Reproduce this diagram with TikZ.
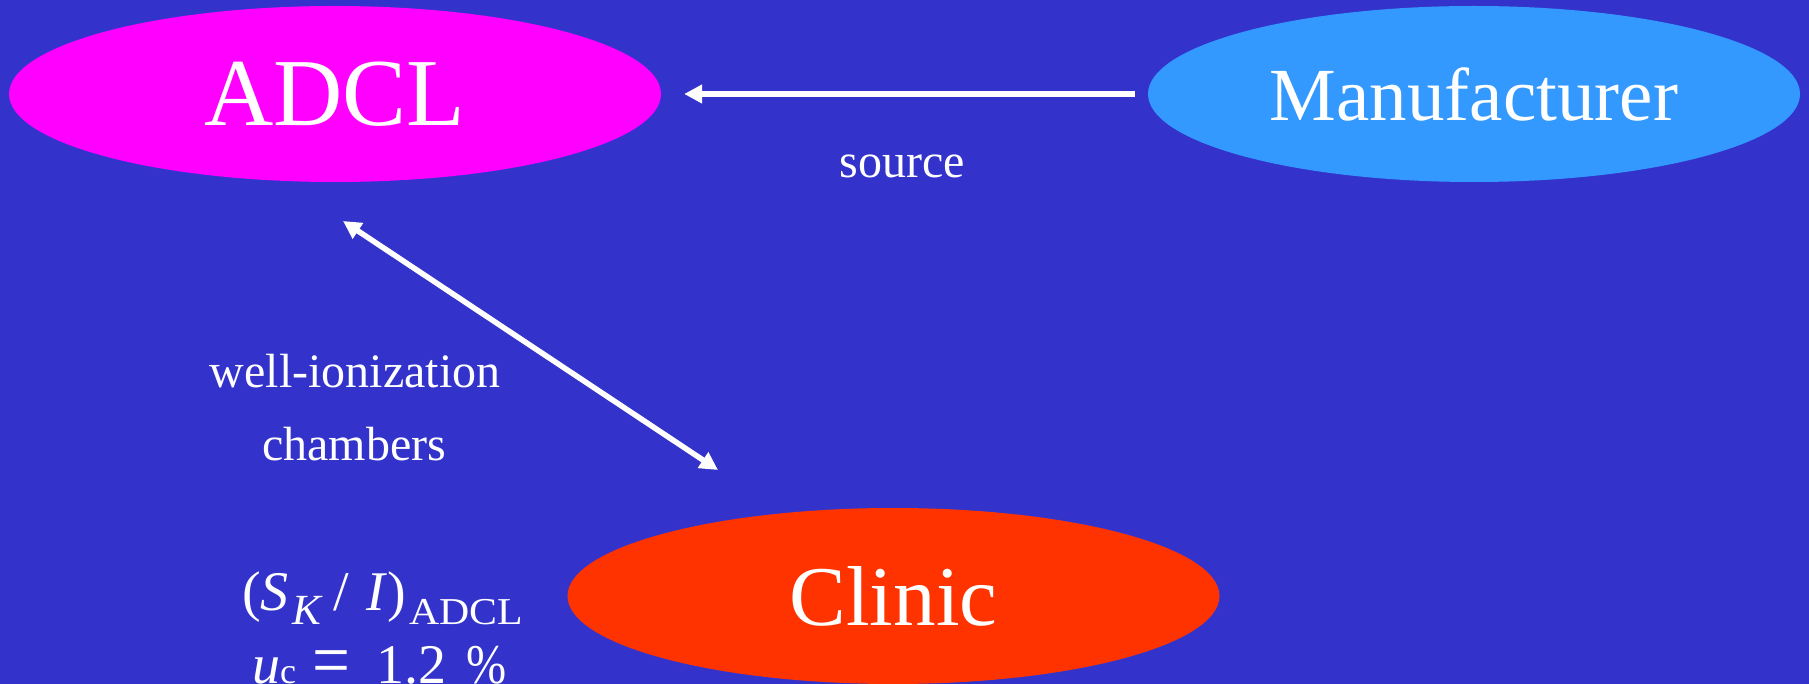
\documentclass[tikz,border=0pt]{standalone}
\usepackage{fontspec}
\setmainfont{Liberation Serif}
\usetikzlibrary{shapes.geometric,arrows.meta}
\definecolor{bgblue}{RGB}{51,51,204}
\definecolor{adclc}{RGB}{255,0,255}
\definecolor{mfrc}{RGB}{51,153,255}
\definecolor{clinicc}{RGB}{255,51,0}
\tikzset{
  blob/.style={ellipse, minimum width=652pt, minimum height=176pt, inner sep=0pt, text=white},
  lbl/.style={text=white, inner sep=0pt, font=\fontsize{48}{56}\selectfont},
  formula/.style={text=white, inner sep=0pt, anchor=base west, font=\fontsize{56}{64}\selectfont},
  arr/.style={draw=white, line width=5.5pt, -{Triangle[length=18pt,width=18pt]}},
  darr/.style={draw=white, line width=5.5pt, {Triangle[length=18pt,width=18pt]}-{Triangle[length=18pt,width=18pt]}},
}
\begin{document}
\begin{tikzpicture}[x=1pt,y=-1pt]
\fill[bgblue] (0,0) rectangle (1809,684);
\useasboundingbox (0,0) rectangle (1809,684);
\node[blob, fill=adclc, font=\fontsize{96}{110}\selectfont] (adcl) at (335,94) {ADCL};
\node[blob, fill=mfrc, font=\fontsize{75}{86}\selectfont] (mfr) at (1474,94) {Manufacturer};
\node[blob, fill=clinicc, font=\fontsize{85}{98}\selectfont] (clinic) at (893.5,596) {Clinic};
\draw[arr, shorten <=13pt, shorten >=23pt] (mfr.west) -- (adcl.east);
\node[lbl, anchor=base] (src) at (902,178) {source};
\coordinate (dA) at (343,221);
\coordinate (dC) at (718,470);
\draw[darr] (dA) -- (dC);
\node[lbl, anchor=base] (well) at (355,387) {well-ionization};
\node[lbl, anchor=base] (cham) at (354,460) {chambers};
\node[formula] (f1) at (242,610)
  {(\textit{S}\hspace{4pt}\raisebox{-14pt}{\fontsize{43}{43}\selectfont\textit{K}}\hspace{10pt}/\hspace{18pt}\textit{I})\hspace{3pt}\raisebox{-14pt}{\fontsize{38}{38}\selectfont\scalebox{1.1}[1]{ADCL}}};
\node[formula] (f2) at (252,683)
  {\textit{u}{\fontsize{36}{36}\selectfont c}\hspace{16pt}\raisebox{-3pt}{\scalebox{1.2}[1.4]{=}}\hspace{26pt}1.2\hspace{20pt}\scalebox{0.86}[1]{\%}};
\end{tikzpicture}
\end{document}
